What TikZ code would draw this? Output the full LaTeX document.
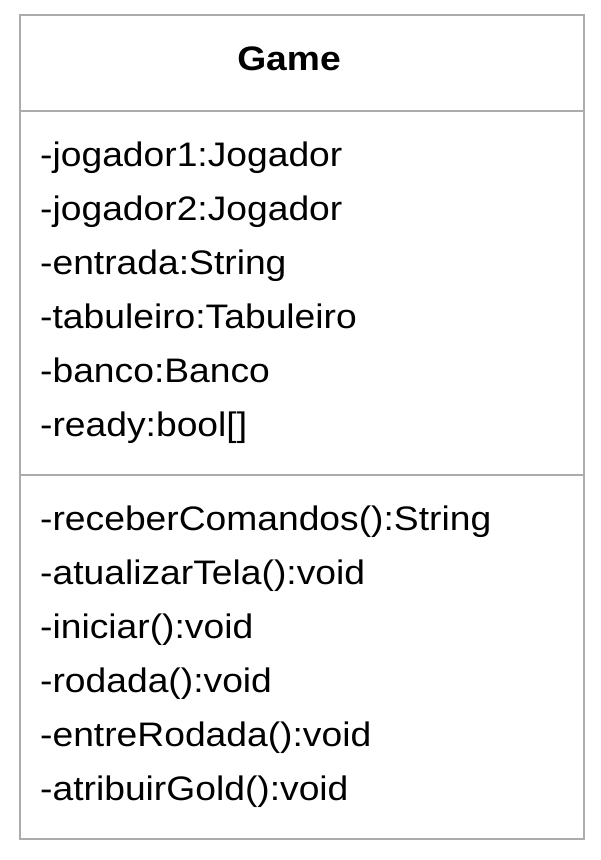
\documentclass[tikz,border=0pt]{standalone}
\usepackage{fontspec}
\setmainfont{Liberation Sans}[FakeStretch=1.095]
\begin{document}
\begin{tikzpicture}[x=1pt,y=-1pt,
  frame/.style={draw=black!33, line width=2pt},
  member/.style={anchor=base west, inner sep=0pt, font=\fontsize{34}{40}\selectfont},
  title/.style={anchor=base, inner sep=0pt, font=\fontsize{34}{40}\selectfont\bfseries}]
\useasboundingbox (0,0) rectangle (601,860);
\draw[frame] (20,15) rectangle (584,839);
\draw[frame] (20,111) -- (584,111);
\draw[frame] (20,475) -- (584,475);
\node[title] (t) at (289,70) {Game};
\node[member] (a1) at (40,166) {-jogador1:Jogador};
\node[member] (a2) at (40,220) {-jogador2:Jogador};
\node[member] (a3) at (40,274) {-entrada:String};
\node[member] (a4) at (40,328) {-tabuleiro:Tabuleiro};
\node[member] (a5) at (40,382) {-banco:Banco};
\node[member] (a6) at (40,436) {-ready:bool[]};
\node[member] (m1) at (40,530) {-receberComandos():String};
\node[member] (m2) at (40,584) {-atualizarTela():void};
\node[member] (m3) at (40,638) {-iniciar():void};
\node[member] (m4) at (40,692) {-rodada():void};
\node[member] (m5) at (40,746) {-entreRodada():void};
\node[member] (m6) at (40,800) {-atribuirGold():void};
\end{tikzpicture}
\end{document}
